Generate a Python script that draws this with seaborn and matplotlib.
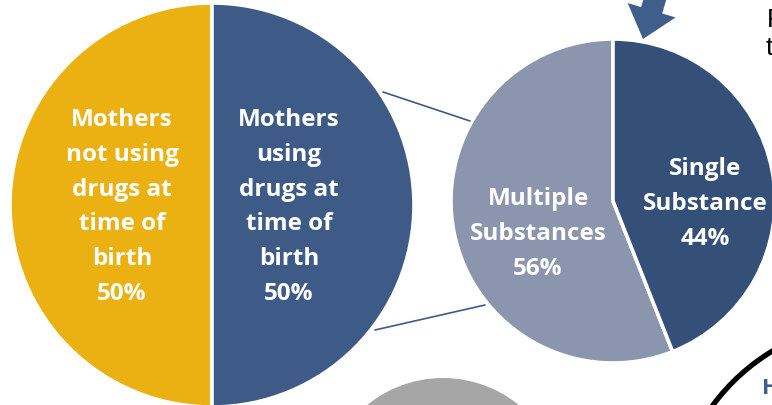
import numpy as np
import seaborn as sns
import matplotlib.pyplot as plt
from matplotlib.patches import Circle, FancyArrow

# Data
main_labels = ["Mothers\nnot using\ndrugs at\ntime of\nbirth", "Mothers\nusing\ndrugs at\ntime of\nbirth"]
main_values = [50, 50]
sub_labels = ["Multiple\nSubstances", "Single\nSubstance"]
sub_values = [56, 44]

main_colors = ["#EBB012", "#3E5B88"]
sub_colors = ["#8B96AE", "#355078"]

sns.set_theme(style="white")
plt.rcParams['font.family'] = ['Open Sans', 'DejaVu Sans']

W, H = 772, 406
fig = plt.figure(figsize=(W / 100, H / 100), dpi=100)
ax = fig.add_axes([0, 0, 1, 1])


def py(y):
    # picture rows run downwards, data y runs upwards
    return H - y


# big pie
ax.pie(main_values, colors=main_colors, startangle=90, counterclock=True,
       center=(212, py(206)), radius=202,
       wedgeprops=dict(edgecolor="white", linewidth=2.6))

# small pie (breakdown of users)
ax.pie(sub_values, colors=sub_colors, startangle=90, counterclock=True,
       center=(613, py(202)), radius=162,
       wedgeprops=dict(edgecolor="white", linewidth=2.6))

txt = dict(color="white", fontsize=17.5, fontweight="bold", ha="center",
           va="center", linespacing=1.6)
ax.text(122, py(207), f"{main_labels[0]}\n{main_values[0]}%", **txt)
ax.text(289, py(207), f"{main_labels[1]}\n{main_values[1]}%", **txt)
ax.text(538, py(234), f"{sub_labels[0]}\n{sub_values[0]}%", **txt)
ax.text(705, py(204), f"{sub_labels[1]}\n{sub_values[1]}%", **txt)

# connector lines
ax.plot([383, 470], [py(93), py(122)], color="#3E5B88", lw=1.2)
ax.plot([375, 485], [py(331), py(306)], color="#3E5B88", lw=1.2)

# arrow pointing at the single-substance slice
ax.add_patch(FancyArrow(664, py(-30), 643 - 664, py(40) - py(-30), width=22,
                        head_width=50, head_length=30, length_includes_head=True,
                        color="#3F5E8C", lw=0))

# bits of neighbouring shapes cut off by the frame
ax.add_patch(Circle((443, py(499)), 120, color="#A6A6A6", lw=0))
ax.add_patch(Circle((880, py(530)), 208, fill=False, ec="black", lw=3.8))
ax.text(762, py(394), "H", color="#3F5F8F", fontsize=16, fontweight="bold",
        ha="left", va="baseline")
ax.text(767, py(27), "F", color="black", fontsize=19, family="Liberation Sans",
        ha="left", va="baseline")
ax.text(766, py(55), "t", color="black", fontsize=19, family="Liberation Sans",
        ha="left", va="baseline")

ax.set_xlim(0, W)
ax.set_ylim(0, H)
ax.set_aspect("equal")
ax.axis("off")

plt.savefig("out.png", dpi=100)
plt.close()
